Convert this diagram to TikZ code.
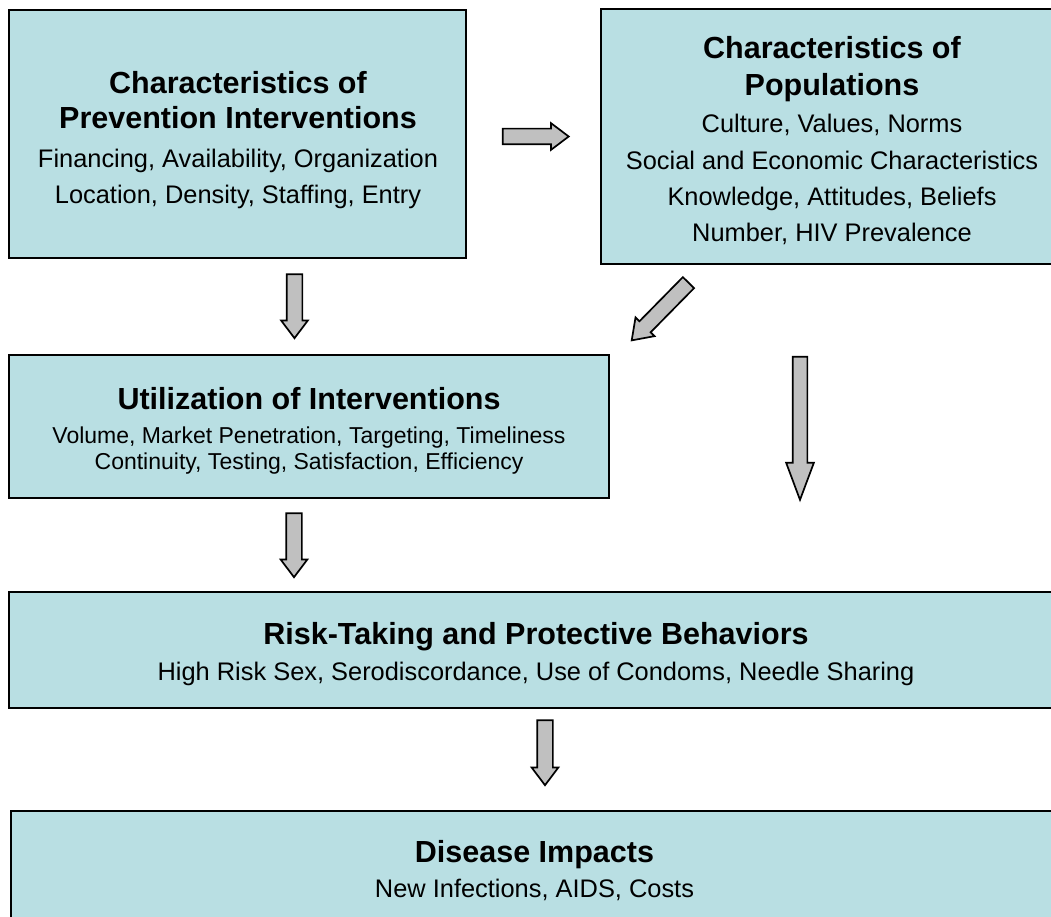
\documentclass[tikz,border=0pt]{standalone}
\usepackage{fontspec}
\setmainfont{Liberation Sans}
\usetikzlibrary{shapes.arrows}
\definecolor{boxfill}{RGB}{185,223,227}
\definecolor{arrowfill}{RGB}{192,192,192}
\tikzset{
 box/.style={draw=black, line width=2.4pt, fill=boxfill, rectangle, inner sep=0pt},
 ttl/.style={anchor=base, font=\fontsize{30.5}{35}\selectfont\bfseries, inner sep=0pt},
 bdy/.style={anchor=base, font=\fontsize{25.4}{30}\selectfont, inner sep=0pt},
 bdys/.style={anchor=base, font=\fontsize{23}{27}\selectfont, inner sep=0pt},
 barrow/.style={single arrow, draw=black, line width=1.7pt, fill=arrowfill,
   inner xsep=0pt, inner ysep=7pt, minimum width=25pt,
   single arrow head extend=5.5pt, single arrow tip angle=74},
}
\begin{document}
\begin{tikzpicture}[x=1pt,y=-1pt]
\clip (0,0) rectangle (1051,917);
\fill[white] (0,0) rectangle (1051,917);
% boxes
\node[box, minimum width=457pt, minimum height=248pt] (b1) at (237.5,134) {};
\node[box, minimum width=462pt, minimum height=255pt] (b2) at (832,136.5) {};
\node[box, minimum width=600pt, minimum height=143pt] (b3) at (309,426.5) {};
\node[box, minimum width=1054pt, minimum height=116pt] (b4) at (536,650) {};
\node[box, minimum width=1047pt, minimum height=124pt] (b5) at (534.5,873) {};
% box 1 text
\node[ttl] (b1t1) at (238,94) {Characteristics of};
\node[ttl] (b1t2) at (238,129) {Prevention Interventions};
\node[bdy] (b1l1) at (238,168) {Financing, Availability, Organization};
\node[bdy] (b1l2) at (238,204) {Location, Density, Staffing, Entry};
% box 2 text
\node[ttl] (b2t1) at (832,59) {Characteristics of};
\node[ttl] (b2t2) at (832,96) {Populations};
\node[bdy] (b2l1) at (832,133) {Culture, Values, Norms};
\node[bdy] (b2l2) at (832,170) {Social and Economic Characteristics};
\node[bdy] (b2l3) at (832,206) {Knowledge, Attitudes, Beliefs};
\node[bdy] (b2l4) at (832,242) {Number, HIV Prevalence};
% box 3 text
\node[ttl] (b3t1) at (309,409) {Utilization of Interventions};
\node[bdys] (b3l1) at (309,443) {Volume, Market Penetration, Targeting, Timeliness};
\node[bdys] (b3l2) at (309,469) {Continuity, Testing, Satisfaction, Efficiency};
% box 4 text
\node[ttl] (b4t1) at (536,644) {Risk-Taking and Protective Behaviors};
\node[bdy] (b4l1) at (536,680) {High Risk Sex, Serodiscordance, Use of Condoms, Needle Sharing};
% box 5 text
\node[ttl] (b5t1) at (534.5,862) {Disease Impacts};
\node[bdy] (b5l1) at (534.5,897) {New Infections, AIDS, Costs};
% block arrows
\node[barrow, minimum height=66pt] (a1) at (530.5,136.5) {};
\node[barrow, minimum height=64pt, rotate=-90] (a2) at (294.5,301) {};
\node[barrow, minimum height=81pt, rotate=225.5, single arrow tip angle=70] (a3) at (664,307.5) {};
\node[barrow, minimum height=64pt, rotate=-90] (a4) at (294,540) {};
\node[barrow, minimum height=143pt, rotate=-90, inner ysep=6.5pt, minimum width=26pt,
      single arrow head extend=6.5pt, single arrow tip angle=41] (a5) at (800,418.5) {};
\node[barrow, minimum height=65pt, rotate=-90] (a6) at (545,747.5) {};
\end{tikzpicture}
\end{document}
